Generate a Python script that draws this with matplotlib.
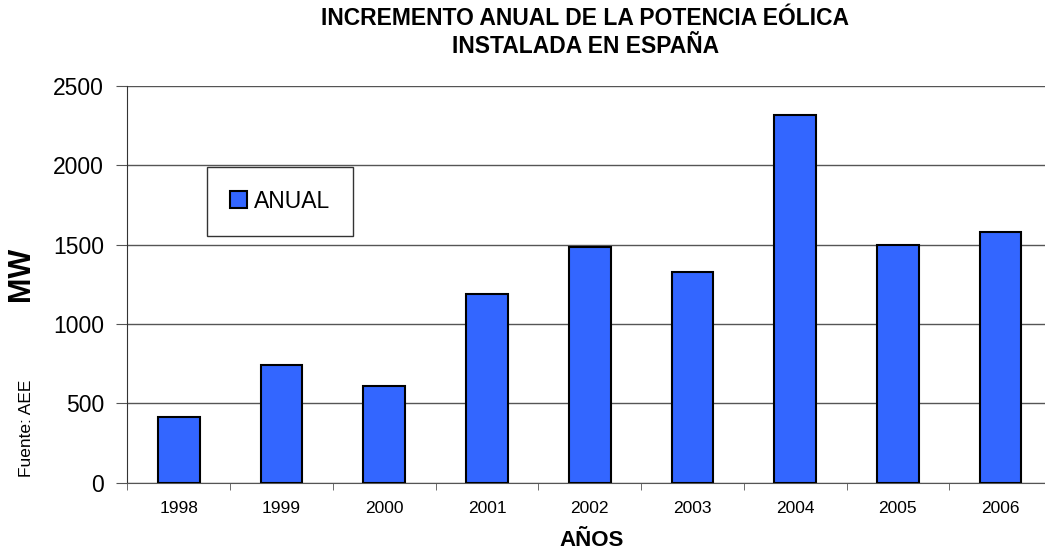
import numpy as np
import matplotlib
matplotlib.use("Agg")
import matplotlib.pyplot as plt

plt.rcParams["font.family"] = ["Liberation Sans", "DejaVu Sans"]

years = ["1998", "1999", "2000", "2001", "2002", "2003", "2004", "2005", "2006"]
anual = [416, 742, 609, 1188, 1487, 1326, 2317, 1496, 1582]
yticks = [0, 500, 1000, 1500, 2000, 2500]

fig = plt.figure(figsize=(10.45, 5.54), dpi=100)
ax = fig.add_axes([0.122, 0.1287, 0.8847, 0.716])

x = np.arange(len(years))
ax.bar(x, anual, width=0.405, color="#3366FF", edgecolor="black",
       linewidth=1.5, label="ANUAL", zorder=3)

ax.set_xlim(-0.5, len(years) - 0.5)
ax.set_ylim(0, 2500)
ax.set_yticks(yticks)
ax.yaxis.grid(True, color="#555555", linewidth=1, zorder=0)

ax.set_xticks(x)
ax.set_xticklabels(years, fontsize=12.5)
ax.set_xticks(np.arange(len(years)) - 0.5, minor=True)
ax.tick_params(axis="x", which="major", length=0, pad=13)
ax.tick_params(axis="x", which="minor", length=5, color="#555555")
ax.tick_params(axis="y", length=8, labelsize=16.5, pad=9, color="#555555")

for side in ["top", "right"]:
    ax.spines[side].set_visible(False)
ax.spines["left"].set_color("#333333")
ax.spines["bottom"].set_color("#555555")

leg = ax.legend(loc="center", bbox_to_anchor=(0.268, 0.637),
                bbox_transform=fig.transFigure, fontsize=16.5,
                frameon=True, fancybox=False, borderpad=1.0,
                handlelength=0.75, handleheight=0.75, handletextpad=0.3)
leg.get_frame().set_edgecolor("black")
leg.get_frame().set_linewidth(1)

fig.text(0.56, 0.967, "INCREMENTO ANUAL DE LA POTENCIA EÓLICA",
         ha="center", va="center", fontsize=16.5, fontweight="bold")
fig.text(0.56, 0.916, "INSTALADA EN ESPAÑA",
         ha="center", va="center", fontsize=16.5, fontweight="bold")
fig.text(0.566, 0.024, "AÑOS", ha="center", va="center",
         fontsize=16, fontweight="bold")
fig.text(0.020, 0.506, "MW", ha="center", va="center", rotation=90,
         fontsize=22, fontweight="bold")
fig.text(0.0255, 0.227, "Fuente: AEE", ha="center", va="center",
         rotation=90, fontsize=12.5)

fig.savefig("out.png", dpi=100)
